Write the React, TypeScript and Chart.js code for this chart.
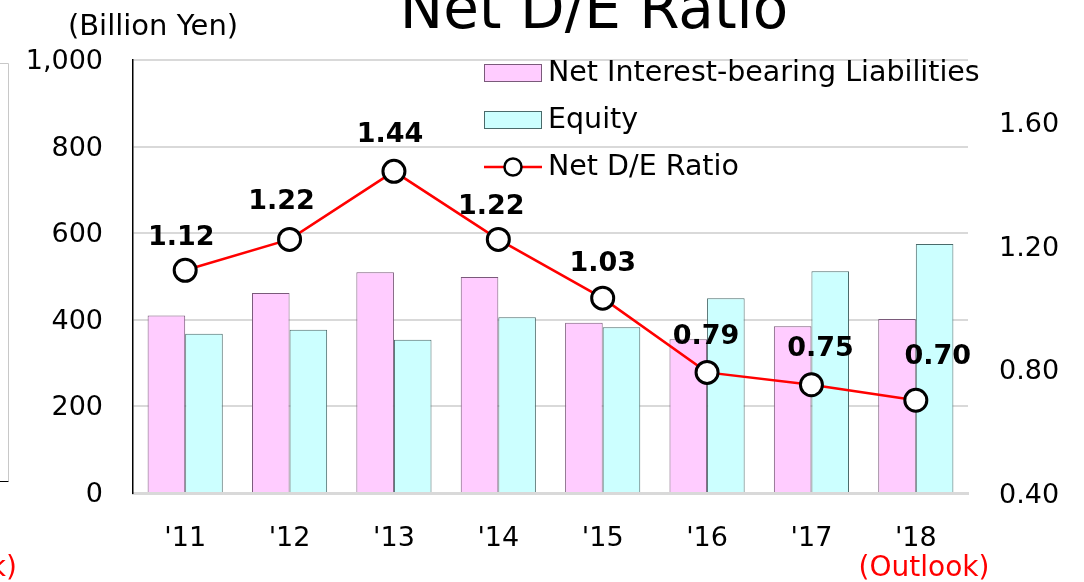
import React, { useEffect, useRef } from "react";
import { Chart, registerables } from "chart.js";

Chart.register(...registerables);

const categories = ["'11", "'12", "'13", "'14", "'15", "'16", "'17", "'18"];
const liabilities = [410, 462, 510, 499, 393, 355, 385, 402];
const equity = [368, 377, 354, 406, 383, 450, 512, 575];
const deRatio = [1.12, 1.22, 1.44, 1.22, 1.03, 0.79, 0.75, 0.7];
const leftTicks = [0, 200, 400, 600, 800, 1000];
const rightTicks = [0.4, 0.8, 1.2, 1.6];
const ratioLabels = ["1.12", "1.22", "1.44", "1.22", "1.03", "0.79", "0.75", "0.70"];
const labelOffsets = [
  [-4, -32],
  [-8, -37],
  [-4, -36],
  [-7, -32],
  [0, -34],
  [-1, -35],
  [9, -36],
  [22, -43],
];

const FONT = "'DejaVu Sans', Verdana, sans-serif";
const PINK = "#ffccff";
const PINK_BORDER = "#7a5a7a";
const CYAN = "#ccffff";
const CYAN_BORDER = "#4a6a6a";

const extrasPlugin = {
  id: "extras",
  afterDatasetsDraw(chart: any) {
    const ctx = chart.ctx;
    const meta = chart.getDatasetMeta(2);
    ctx.save();
    ctx.fillStyle = "#000";
    ctx.font = `bold 27px ${FONT}`;
    ctx.textAlign = "center";
    ctx.textBaseline = "middle";
    meta.data.forEach((pt: any, i: number) => {
      const [dx, dy] = labelOffsets[i];
      ctx.fillText(ratioLabels[i], pt.x + dx, pt.y + dy);
    });
    ctx.restore();
  },
  afterDraw(chart: any) {
    const ctx = chart.ctx;
    ctx.save();
    // Title
    ctx.fillStyle = "#000";
    ctx.font = `58px ${FONT}`;
    ctx.textAlign = "center";
    ctx.textBaseline = "alphabetic";
    ctx.fillText("Net D/E Ratio", 594, 28);
    // Unit
    ctx.font = `29px ${FONT}`;
    ctx.textBaseline = "middle";
    ctx.fillText("(Billion Yen)", 153, 27);
    // Outlook
    ctx.fillStyle = "#ff0000";
    ctx.font = `28px ${FONT}`;
    ctx.fillText("(Outlook)", 924, 569);
    ctx.textAlign = "right";
    ctx.fillText("(Outlook)", 17, 569);
    // left fragment of neighbouring chart
    ctx.strokeStyle = "#c8c8c8";
    ctx.lineWidth = 1;
    ctx.beginPath();
    ctx.moveTo(0, 63.5);
    ctx.lineTo(8.5, 63.5);
    ctx.lineTo(8.5, 481);
    ctx.stroke();
    ctx.strokeStyle = "#000";
    ctx.beginPath();
    ctx.moveTo(0, 481.5);
    ctx.lineTo(8.5, 481.5);
    ctx.stroke();
    // Legend
    ctx.textAlign = "left";
    ctx.textBaseline = "middle";
    ctx.font = `28.5px ${FONT}`;
    ctx.lineWidth = 1;
    ctx.fillStyle = PINK;
    ctx.fillRect(484, 64, 57, 17);
    ctx.strokeStyle = PINK_BORDER;
    ctx.strokeRect(484.5, 64.5, 57, 17);
    ctx.fillStyle = CYAN;
    ctx.fillRect(484, 111, 57, 17);
    ctx.strokeStyle = CYAN_BORDER;
    ctx.strokeRect(484.5, 111.5, 57, 17);
    ctx.strokeStyle = "#ff0000";
    ctx.lineWidth = 2.5;
    ctx.beginPath();
    ctx.moveTo(484, 167);
    ctx.lineTo(542, 167);
    ctx.stroke();
    ctx.beginPath();
    ctx.arc(513, 167, 8.5, 0, Math.PI * 2);
    ctx.fillStyle = "#fff";
    ctx.fill();
    ctx.strokeStyle = "#000";
    ctx.lineWidth = 2.5;
    ctx.stroke();
    ctx.fillStyle = "#000";
    ctx.fillText("Net Interest-bearing Liabilities", 548, 74);
    ctx.fillText("Equity", 548, 121);
    ctx.fillText("Net D/E Ratio", 548, 168);
    ctx.restore();
  },
};

export default function App() {
  const ref = useRef<HTMLCanvasElement | null>(null);
  useEffect(() => {
    document.body.style.margin = "0";
    const canvas = ref.current;
    if (!canvas) return;
    const chart = new Chart(canvas, {
      type: "bar",
      data: {
        labels: categories,
        datasets: [
          {
            type: "bar",
            label: "Net Interest-bearing Liabilities",
            data: liabilities,
            backgroundColor: PINK,
            borderColor: PINK_BORDER,
            borderWidth: 1,
            yAxisID: "y",
            order: 1,
            barPercentage: 1,
            categoryPercentage: 0.72,
          },
          {
            type: "bar",
            label: "Equity",
            data: equity,
            backgroundColor: CYAN,
            borderColor: CYAN_BORDER,
            borderWidth: 1,
            yAxisID: "y",
            order: 1,
            barPercentage: 1,
            categoryPercentage: 0.72,
          },
          {
            type: "line",
            label: "Net D/E Ratio",
            data: deRatio,
            borderColor: "#ff0000",
            borderWidth: 2.5,
            pointRadius: 11,
            pointBackgroundColor: "#ffffff",
            pointBorderColor: "#000000",
            pointBorderWidth: 3,
            yAxisID: "y1",
            order: 0,
            tension: 0,
          } as any,
        ],
      },
      options: {
        responsive: false,
        animation: false,
        layout: { padding: { top: 60, left: 0, right: 0, bottom: 0 } },
        plugins: {
          legend: { display: false },
          tooltip: { enabled: false },
          title: { display: false },
        },
        scales: {
          x: {
            offset: true,
            grid: { display: false, drawTicks: false },
            border: { display: true, color: "#d9d9d9", width: 3 },
            ticks: {
              color: "#000",
              font: { family: FONT, size: 27 },
              padding: 30,
              maxRotation: 0,
            },
            afterFit(scale: any) {
              scale.height = 89;
            },
          },
          y: {
            position: "left",
            min: 0,
            max: 1000,
            afterBuildTicks(scale: any) {
              scale.ticks = leftTicks.map((v) => ({ value: v }));
            },
            grid: { color: "#d9d9d9", lineWidth: 2, drawTicks: false },
            border: { display: true, color: "#000", width: 1.5 },
            ticks: {
              color: "#000",
              font: { family: FONT, size: 27 },
              padding: 30,
              labelOffset: 2,
              callback: (v: any) => Number(v).toLocaleString("en-US"),
            },
            afterFit(scale: any) {
              scale.width = 133;
            },
          },
          y1: {
            position: "right",
            min: 0.4,
            max: 1.8,
            afterBuildTicks(scale: any) {
              scale.ticks = rightTicks.map((v) => ({ value: v }));
            },
            grid: { display: false, drawTicks: false },
            border: { display: false },
            ticks: {
              color: "#000",
              font: { family: FONT, size: 27 },
              padding: 31,
              labelOffset: 3,
              callback: (v: any) => Number(v).toFixed(2),
            },
            afterFit(scale: any) {
              scale.width = 116;
            },
          },
        },
      },
      plugins: [extrasPlugin],
    });
    return () => chart.destroy();
  }, []);
  return (
    <canvas
      ref={ref}
      width={1084}
      height={582}
      style={{ display: "block", width: "1084px", height: "582px" }}
    />
  );
}
